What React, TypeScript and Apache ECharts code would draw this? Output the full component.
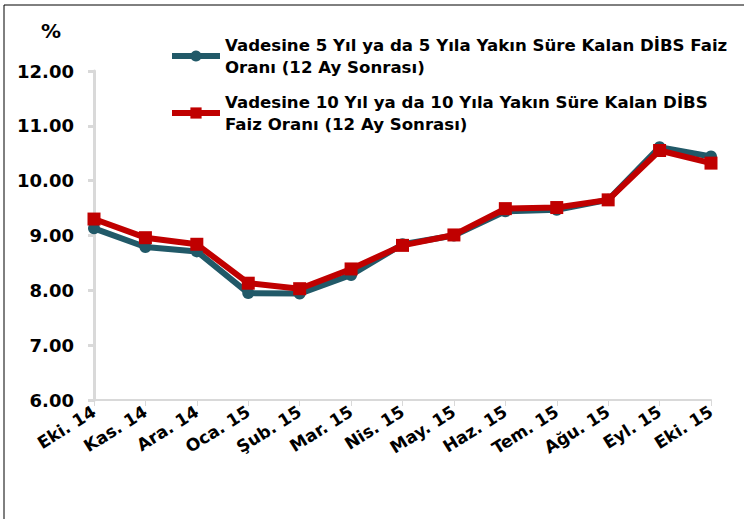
import React, { useEffect, useRef } from "react";
import * as echarts from "echarts";

const categories = ["Eki. 14", "Kas. 14", "Ara. 14", "Oca. 15", "Şub. 15", "Mar. 15", "Nis. 15", "May. 15", "Haz. 15", "Tem. 15", "Ağu. 15", "Eyl. 15", "Eki. 15"];
const series5y = [9.13, 8.79, 8.71, 7.95, 7.94, 8.28, 8.84, 9.0, 9.44, 9.47, 9.65, 10.61, 10.44];
const series10y = [9.3, 8.96, 8.84, 8.13, 8.03, 8.39, 8.82, 9.01, 9.49, 9.51, 9.65, 10.55, 10.32];
const name5y = "Vadesine 5 Yıl ya da 5 Yıla Yakın Süre Kalan DİBS Faiz\nOranı (12 Ay Sonrası)";
const name10y = "Vadesine 10 Yıl ya da 10 Yıla Yakın Süre Kalan DİBS\nFaiz Oranı (12 Ay Sonrası)";

const FONT = "DejaVu Sans";

export default function App() {
  const ref = useRef<HTMLDivElement>(null);
  useEffect(() => {
    const chart = echarts.init(ref.current!, null, { renderer: "svg" });
    chart.setOption({
      animation: false,
      backgroundColor: "#ffffff",
      textStyle: { fontFamily: FONT },
      graphic: [
        { type: "line", shape: { x1: 4, y1: 5, x2: 744, y2: 5 }, style: { stroke: "#000", lineWidth: 1 } },
        { type: "line", shape: { x1: 4, y1: 5, x2: 4, y2: 519 }, style: { stroke: "#000", lineWidth: 1 } },
        { type: "text", left: 41, top: 21, style: { text: "%", font: `bold 20px '${FONT}'`, fill: "#000" } },
      ],
      legend: {
        orient: "vertical",
        left: 164,
        top: 18,
        itemWidth: 48,
        itemHeight: 14,
        itemGap: -9,
        selectedMode: false,
        data: [name5y, name10y],
        lineStyle: { width: 6 },
        textStyle: {
          fontFamily: FONT,
          fontWeight: "bold",
          fontSize: 16.6,
          lineHeight: 22,
          color: "#000",
          padding: [22, 0, 0, 0],
        },
      },
      grid: { left: 94, right: 33, top: 71, bottom: 119 },
      xAxis: {
        type: "category",
        data: categories,
        boundaryGap: false,
        axisLine: { lineStyle: { color: "#d9d9d9", width: 2 } },
        axisTick: { show: true, length: 6, lineStyle: { color: "#d9d9d9", width: 1 } },
        axisLabel: { rotate: 32, fontFamily: FONT, fontWeight: "bold", fontSize: 17, color: "#000", margin: 10 },
      },
      yAxis: {
        type: "value",
        min: 6,
        max: 12,
        interval: 1,
        splitLine: { show: false },
        axisLine: { show: true, lineStyle: { color: "#d9d9d9", width: 3 } },
        axisTick: { show: true, length: 6, lineStyle: { color: "#d9d9d9", width: 3 } },
        axisLabel: {
          fontFamily: FONT,
          fontWeight: "bold",
          fontSize: 18,
          color: "#000",
          margin: 20,
          formatter: (v: number) => v.toFixed(2),
        },
      },
      series: [
        {
          name: name5y,
          type: "line",
          data: series5y,
          symbol: "circle",
          symbolSize: 12,
          lineStyle: { color: "#215968", width: 6 },
          itemStyle: { color: "#215968" },
        },
        {
          name: name10y,
          type: "line",
          data: series10y,
          symbol: "rect",
          symbolSize: 13,
          lineStyle: { color: "#C00000", width: 6 },
          itemStyle: { color: "#C00000" },
        },
      ],
    });
    return () => chart.dispose();
  }, []);
  return <div ref={ref} style={{ width: 744, height: 519, position: "absolute", left: 0, top: 0 }} />;
}
